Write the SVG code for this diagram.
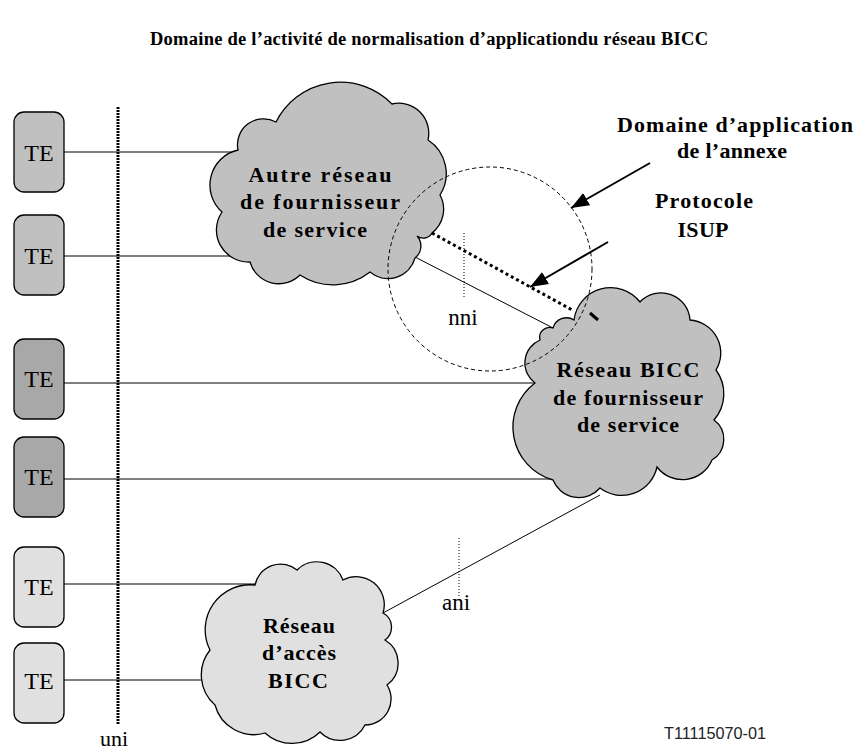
<svg xmlns="http://www.w3.org/2000/svg" width="858" height="753" viewBox="0 0 858 753">
  <style>
    .bold { font-family: "Liberation Serif", "Times New Roman", serif; font-weight: bold; fill: #000; }
    .reg { font-family: "Liberation Serif", "Times New Roman", serif; fill: #000; }
    .te rect { stroke: #000; stroke-width: 1.3; }
    .te text { font-family: "Liberation Serif", "Times New Roman", serif; font-size: 24px; text-anchor: middle; }
    .cloud path { stroke: #000; stroke-width: 1.3; }
    .cloud text { text-anchor: middle; font-size: 22px; }
    .link { stroke: #000; stroke-width: 1; fill: none; }
    .fine-dot { stroke: #000; stroke-width: 1; stroke-dasharray: 1 2; fill: none; }
    .arrow { stroke: #000; stroke-width: 2; fill: none; marker-end: url(#head); }
  </style>
  <defs>
    <marker id="head" markerUnits="userSpaceOnUse" markerWidth="20" markerHeight="16" refX="18" refY="7" orient="auto">
      <path d="M0,0 L18,7 L0,14 Z" fill="#000"/>
    </marker>
  </defs>

  <rect width="858" height="753" fill="#fff"/>

  <text class="bold" x="429" y="45" font-size="18.5" text-anchor="middle" textLength="558" lengthAdjust="spacing">Domaine de l’activité de normalisation d’applicationdu réseau BICC</text>

  <!-- user-network interface boundary -->
  <line x1="118" y1="107" x2="118" y2="725" stroke="#000" stroke-width="3" stroke-dasharray="2 1"/>
  <text class="reg" x="114" y="746" font-size="22" text-anchor="middle">uni</text>

  <!-- connectors -->
  <g id="connectors">
    <line class="link" x1="64" y1="152" x2="240" y2="152"/>
    <line class="link" x1="64" y1="256" x2="246" y2="256"/>
    <line class="link" x1="60" y1="383" x2="536" y2="383"/>
    <line class="link" x1="64" y1="479" x2="553" y2="479"/>
    <line class="link" x1="64" y1="584" x2="256" y2="584"/>
    <line class="link" x1="64" y1="680" x2="206" y2="680"/>
    <!-- nni link -->
    <line class="link" x1="415" y1="257" x2="553" y2="328"/>
    <!-- ani link -->
    <line class="link" x1="383" y1="613" x2="600" y2="495"/>
    <!-- interface markers -->
    <line class="fine-dot" x1="464" y1="233" x2="464" y2="298"/>
    <line class="fine-dot" x1="459" y1="538" x2="459" y2="597"/>
  </g>

  <!-- terminal equipment -->
  <g id="te1" class="te"><rect x="14" y="112" width="50" height="80" rx="10" fill="#c0c0c0"/><text x="39" y="161">TE</text></g>
  <g id="te2" class="te"><rect x="14" y="215" width="50" height="80" rx="10" fill="#c0c0c0"/><text x="39" y="264">TE</text></g>
  <g id="te3" class="te"><rect x="14" y="339" width="50" height="80" rx="10" fill="#a8a8a8"/><text x="39" y="387">TE</text></g>
  <g id="te4" class="te"><rect x="14" y="437" width="50" height="80" rx="10" fill="#a8a8a8"/><text x="39" y="485">TE</text></g>
  <g id="te5" class="te"><rect x="14" y="547" width="50" height="80" rx="10" fill="#e0e0e0"/><text x="39" y="595">TE</text></g>
  <g id="te6" class="te"><rect x="14" y="643" width="50" height="80" rx="10" fill="#e0e0e0"/><text x="39" y="689">TE</text></g>

  <!-- other service provider network -->
  <g id="autre-reseau" class="cloud">
    <path fill="#c0c0c0" d="M238,150 A26,26 0 0 1 276,122 A72,72 0 0 1 392,104 A30,30 0 0 1 428,140 A40,40 0 0 1 440,195 A30,30 0 0 1 432,233 A10,10 0 0 1 417,236 A15,15 0 0 1 415,258 A28,28 0 0 1 370,272 A60,60 0 0 1 300,275 A30,30 0 0 1 250,262 A32,32 0 0 1 222,212 A36,36 0 0 1 238,150 Z"/>
    <text class="bold" x="320" y="182" textLength="143" lengthAdjust="spacing">Autre réseau</text>
    <text class="bold" x="320" y="209" textLength="160" lengthAdjust="spacing">de fournisseur</text>
    <text class="bold" x="315" y="237" textLength="104" lengthAdjust="spacing">de service</text>
  </g>

  <!-- BICC service provider network -->
  <g id="reseau-bicc" class="cloud">
    <path fill="#c0c0c0" d="M553,328 A14,14 0 0 1 574,320 A37,37 0 0 1 640,302 A29,29 0 0 1 690,320 A33,33 0 0 1 716,370 A40,40 0 0 1 714,420 A24,24 0 0 1 712,460 A32,32 0 0 1 657,467 A36,36 0 0 1 600,488 A28,28 0 0 1 553,480 A55,55 0 0 1 535,383 A25,25 0 0 1 540,340 A10,10 0 0 1 553,328 Z"/>
    <text class="bold" x="628" y="377" textLength="143" lengthAdjust="spacing">Réseau BICC</text>
    <text class="bold" x="628" y="405" textLength="150" lengthAdjust="spacing">de fournisseur</text>
    <text class="bold" x="628" y="432" textLength="102" lengthAdjust="spacing">de service</text>
  </g>

  <!-- BICC access network -->
  <g id="reseau-acces" class="cloud">
    <path fill="#e0e0e0" d="M255,585 A26,26 0 0 1 297,570 A28,28 0 0 1 343,580 A28,28 0 0 1 383,613 A16,16 0 0 1 385,640 A27,27 0 0 1 387,685 A26,26 0 0 1 365,725 A28,28 0 0 1 320,732 A40,40 0 0 1 265,733 A40,40 0 0 1 215,705 A40,40 0 0 1 210,650 A45,45 0 0 1 255,585 Z"/>
    <text class="bold" x="299" y="633" textLength="72" lengthAdjust="spacing">Réseau</text>
    <text class="bold" x="299" y="660" textLength="74" lengthAdjust="spacing">d’accès</text>
    <text class="bold" x="298" y="688" textLength="60" lengthAdjust="spacing">BICC</text>
  </g>

  <!-- scope of the annex and ISUP signalling -->
  <g id="annexe">
    <circle cx="490" cy="269" r="102" fill="none" stroke="#000" stroke-width="1" stroke-dasharray="4 3"/>
    <line x1="432" y1="233" x2="574" y2="311" stroke="#000" stroke-width="3" stroke-dasharray="3 3"/>
    <line x1="590" y1="313" x2="598" y2="320" stroke="#000" stroke-width="3"/>
    <text class="reg" x="463" y="325" font-size="23" text-anchor="middle">nni</text>
    <text class="reg" x="456" y="610" font-size="23" text-anchor="middle">ani</text>
  </g>

  <g id="labels">
    <line class="arrow" x1="650" y1="163" x2="571" y2="208"/>
    <line class="arrow" x1="608" y1="242" x2="530" y2="287"/>
    <text class="bold" x="735" y="132" font-size="22" text-anchor="middle" textLength="236" lengthAdjust="spacing">Domaine d’application</text>
    <text class="bold" x="732" y="158" font-size="22" text-anchor="middle" textLength="110" lengthAdjust="spacing">de l’annexe</text>
    <text class="bold" x="704" y="208" font-size="22" text-anchor="middle" textLength="98" lengthAdjust="spacing">Protocole</text>
    <text class="bold" x="703" y="237" font-size="22" text-anchor="middle" textLength="51" lengthAdjust="spacing">ISUP</text>
  </g>

  <text x="715" y="739" font-family="Liberation Sans, Arial, sans-serif" font-size="16" text-anchor="middle" textLength="102" lengthAdjust="spacingAndGlyphs" fill="#222">T11115070-01</text>
</svg>
